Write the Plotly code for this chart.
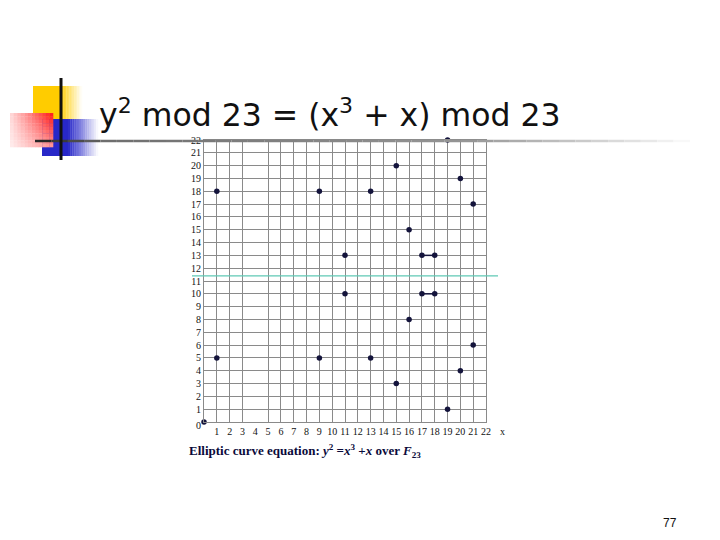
import plotly.graph_objects as go

# ---- data ----
pts_x = [0, 1, 1, 9, 9, 11, 11, 13, 13, 15, 15, 16, 16, 17, 17, 18, 18, 19, 19, 20, 20, 21, 21]
pts_y = [0, 5, 18, 5, 18, 10, 13, 5, 18, 3, 20, 8, 15, 10, 13, 10, 13, 1, 22, 4, 19, 6, 17]
seg_a_x = [17, 18]
seg_a_y = [13, 13]
seg_b_x = [17, 18]
seg_b_y = [10, 10]
x_ticks = list(range(1, 23))
y_ticks = list(range(1, 23))
x_grid = [v for v in range(1, 23) if v != 4]   # the reference has no grid line at x = 4
sym_line_y = 11.4

OFF = 8
W, H = 720 - 2 * OFF, 540 - 2 * OFF
def px(x):
    return (x - OFF) / W
def py(y):
    return 1 - (y - OFF) / H

def mix(c1, c2, t):
    return "rgb(%d,%d,%d)" % tuple(round(a + (b - a) * t) for a, b in zip(c1, c2))

shapes = []

def hgrad_rect(x0, x1, y0, y1, c_solid, solid_to, n=14):
    shapes.append(dict(type="rect", xref="paper", yref="paper", x0=px(x0), x1=px(solid_to),
                       y0=py(y1), y1=py(y0), fillcolor=mix(c_solid, c_solid, 0), line_width=0, layer="below"))
    step = (x1 - solid_to) / n
    for i in range(n):
        t = (i + 0.5) / n
        shapes.append(dict(type="rect", xref="paper", yref="paper",
                           x0=px(solid_to + i * step), x1=px(solid_to + (i + 1) * step + 0.3),
                           y0=py(y1), y1=py(y0), fillcolor=mix(c_solid, (255, 255, 255), t),
                           line_width=0, layer="below"))

hgrad_rect(33, 82, 86, 119, (255, 204, 0), 60)
hgrad_rect(42, 98, 119, 156, (40, 40, 200), 68)
rx0, rx1, ry0, ry1 = 10, 53, 113, 147
nx, ny = 12, 10
for i in range(nx):
    for j in range(ny):
        tx = 0.15 + 0.85 * (i + 0.5) / nx
        ty = 1 - 0.55 * (j + 0.5) / ny
        t = tx * ty
        shapes.append(dict(type="rect", xref="paper", yref="paper",
                           x0=px(rx0 + i * (rx1 - rx0) / nx), x1=px(rx0 + (i + 1) * (rx1 - rx0) / nx + 0.3),
                           y0=py(ry0 + (j + 1) * (ry1 - ry0) / ny + 0.3), y1=py(ry0 + j * (ry1 - ry0) / ny),
                           fillcolor=mix((255, 255, 255), (255, 20, 20), t), line_width=0, layer="below"))

n = 40
lx0, lx1 = 35, 690
for i in range(n):
    t = i / n
    if t < 0.1:
        c = mix((40, 40, 40), (110, 110, 110), t / 0.1)
    elif t < 0.65:
        c = mix((110, 110, 110), (150, 150, 150), (t - 0.1) / 0.55)
    else:
        c = mix((150, 150, 150), (255, 255, 255), (t - 0.65) / 0.35)
    shapes.append(dict(type="line", xref="paper", yref="paper",
                       x0=px(lx0 + i * (lx1 - lx0) / n), x1=px(lx0 + (i + 1) * (lx1 - lx0) / n),
                       y0=py(141), y1=py(141), line=dict(color=c, width=2.5)))
shapes.append(dict(type="line", xref="paper", yref="paper", x0=px(61), x1=px(61),
                   y0=py(78), y1=py(160), line=dict(color="#111111", width=3)))
shapes.append(dict(type="line", xref="paper", yref="y", x0=px(192), x1=px(498),
                   y0=sym_line_y, y1=sym_line_y, line=dict(color="#5fc9b5", width=1.3)))

fig = go.Figure()
dot_color = "#14143c"
fig.add_trace(go.Scatter(x=seg_a_x, y=seg_a_y, mode="lines", line=dict(color=dot_color, width=1.5),
                         hoverinfo="skip", cliponaxis=False))
fig.add_trace(go.Scatter(x=seg_b_x, y=seg_b_y, mode="lines", line=dict(color=dot_color, width=1.5),
                         hoverinfo="skip", cliponaxis=False))
fig.add_trace(go.Scatter(x=pts_x, y=pts_y, mode="markers", marker=dict(color=dot_color, size=5.5),
                         cliponaxis=False))

grid_c = "#8a8a8a"
tick_font = dict(family="Liberation Serif", size=10, color="#111111")
fig.update_xaxes(range=[0, 22], domain=[px(204), px(486)], tickvals=x_ticks,
                 ticktext=[str(v) for v in x_ticks], showgrid=False,
                 minor=dict(tickmode="array", tickvals=x_grid, showgrid=True, gridcolor=grid_c,
                            gridwidth=1, ticks=""),
                 showline=True, mirror=True, linecolor=grid_c, linewidth=1, zeroline=False,
                 ticks="", tickfont=tick_font, fixedrange=True, automargin=False)
fig.update_yaxes(range=[0, 22], domain=[py(422), py(140)], tickvals=y_ticks,
                 ticktext=[str(v) for v in y_ticks], showgrid=True, gridcolor=grid_c, gridwidth=1,
                 showline=True, mirror=True, linecolor=grid_c, linewidth=1, zeroline=False,
                 ticks="", tickfont=tick_font, fixedrange=True, automargin=False)

annotations = [
    dict(text="y<sup>2</sup> mod 23 = (x<sup>3</sup> + x) mod 23", xref="paper", yref="paper",
         x=px(97), y=py(113), xanchor="left", yanchor="middle", showarrow=False,
         font=dict(family="DejaVu Sans", size=31.5, color="#111111")),
    dict(text="0", xref="paper", yref="paper", x=px(194), y=py(433), showarrow=False,
         font=tick_font),
    dict(text="x", xref="paper", yref="paper", x=px(507), y=py(439), showarrow=False,
         font=tick_font),
    dict(text="<b>Elliptic curve equation: <i>y</i><sup>2</sup> =<i>x</i><sup>3</sup> +<i>x</i> over <i>F</i><sub>23</sub></b>",
         xref="paper", yref="paper", x=px(187), y=py(451), xanchor="left", yanchor="middle",
         showarrow=False, font=dict(family="Liberation Serif", size=13, color="#0a0a3a")),
    dict(text="77", xref="paper", yref="paper", x=px(679), y=py(532), showarrow=False,
         font=dict(family="Liberation Sans", size=12, color="#111111")),
]

fig.update_layout(width=W, height=H, margin=dict(l=0, r=0, t=0, b=0),
                  paper_bgcolor="white", plot_bgcolor="white", showlegend=False,
                  shapes=shapes, annotations=annotations)

fig.write_html("out.html")
